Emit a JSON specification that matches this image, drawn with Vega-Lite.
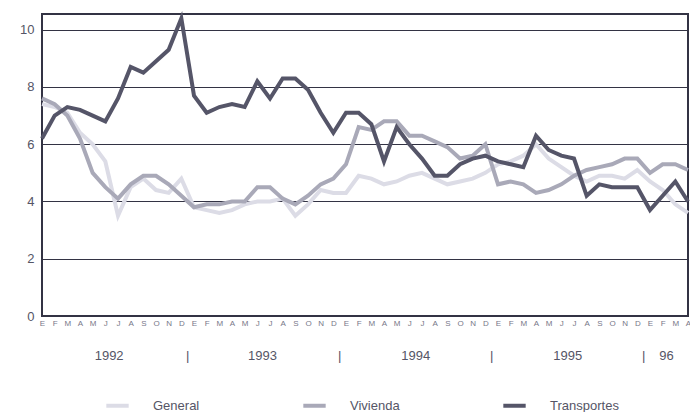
{
"$schema":"https://vega.github.io/schema/vega-lite/v6.json",
"width":646,"height":302,
"padding":{"left":19,"top":10,"right":2,"bottom":0},
"config":{"font":"Liberation Sans","view":{"stroke":"#333344","strokeWidth":2},"axisX":{"labelOverlap":false}},
"datasets":{
"years":[{"p":5.3,"t":"1992"},{"p":17.4,"t":"1993"},{"p":29.5,"t":"1994"},{"p":41.5,"t":"1995"},{"p":49.3,"t":"96"},{"p":11.5,"t":"|"},{"p":23.5,"t":"|"},{"p":35.5,"t":"|"},{"p":47.5,"t":"|"}]
},
"layer":[
{"data":{"values":[
{"s":"General","v":[7.4,7.3,7.1,6.4,6.0,5.4,3.5,4.5,4.8,4.4,4.3,4.8,3.8,3.7,3.6,3.7,3.9,4.0,4.0,4.1,3.5,3.9,4.4,4.3,4.3,4.9,4.8,4.6,4.7,4.9,5.0,4.8,4.6,4.7,4.8,5.0,5.3,5.4,5.6,6.0,5.5,5.2,4.9,4.7,4.9,4.9,4.8,5.1,4.7,4.4,3.9,3.6]},
{"s":"Vivienda","v":[7.6,7.4,7.0,6.2,5.0,4.5,4.1,4.6,4.9,4.9,4.6,4.2,3.8,3.9,3.9,4.0,4.0,4.5,4.5,4.1,3.9,4.2,4.6,4.8,5.3,6.6,6.5,6.8,6.8,6.3,6.3,6.1,5.9,5.5,5.6,6.0,4.6,4.7,4.6,4.3,4.4,4.6,4.9,5.1,5.2,5.3,5.5,5.5,5.0,5.3,5.3,5.1]},
{"s":"Transportes","v":[6.2,7.0,7.3,7.2,7.0,6.8,7.6,8.7,8.5,8.9,9.3,10.4,7.7,7.1,7.3,7.4,7.3,8.2,7.6,8.3,8.3,7.9,7.1,6.4,7.1,7.1,6.7,5.4,6.6,6.0,5.5,4.9,4.9,5.3,5.5,5.6,5.4,5.3,5.2,6.3,5.8,5.6,5.5,4.2,4.6,4.5,4.5,4.5,3.7,4.2,4.7,4.0]}
]},
"transform":[{"flatten":["v"]},{"window":[{"op":"row_number","as":"n"}],"groupby":["s"]},{"calculate":"datum.n-1","as":"m"}],
"mark":{"type":"line","strokeWidth":4},
"encoding":{
"x":{"field":"m","type":"quantitative","scale":{"domain":[0,51],"nice":false},
"axis":{"title":null,"grid":false,"domain":false,"ticks":false,"labelOverlap":false,"labelSeparation":0,"values":[0,1,2,3,4,5,6,7,8,9,10,11,12,13,14,15,16,17,18,19,20,21,22,23,24,25,26,27,28,29,30,31,32,33,34,35,36,37,38,39,40,41,42,43,44,45,46,47,48,49,50,51],
"labelExpr":"['E','F','M','A','M','J','J','A','S','O','N','D'][datum.value%12]","labelFontSize":8,"labelColor":"#777788","labelPadding":3,"labelFlush":false}},
"y":{"field":"v","type":"quantitative","scale":{"domain":[0,10.55],"nice":false},
"axis":{"title":null,"values":[0,2,4,6,8,10],"grid":true,"gridColor":"#333344","gridWidth":1.2,"domain":false,"ticks":false,"labelFontSize":13,"labelColor":"#555566","labelPadding":8}},
"color":{"field":"s","type":"nominal","scale":{"domain":["General","Vivienda","Transportes"],"range":["#dcdce6","#a9a9b8","#555568"]},
"legend":{"title":null,"orient":"none","legendX":62,"legendY":378,"direction":"horizontal","symbolType":"stroke","symbolStrokeWidth":4,"symbolSize":500,"labelFontSize":13,"labelColor":"#555566","columnPadding":95,"labelOffset":22,"padding":0}},
"order":{"field":"m"}
}},
{"data":{"name":"years"},
"mark":{"type":"text","fontSize":13,"color":"#555566","yOffset":40,"clip":false},
"encoding":{"x":{"field":"p","type":"quantitative",
"axis":{"title":null,"grid":false,"domain":false,"ticks":false,"labelOverlap":false,"labelSeparation":0,"values":[0,1,2,3,4,5,6,7,8,9,10,11,12,13,14,15,16,17,18,19,20,21,22,23,24,25,26,27,28,29,30,31,32,33,34,35,36,37,38,39,40,41,42,43,44,45,46,47,48,49,50,51],
"labelExpr":"['E','F','M','A','M','J','J','A','S','O','N','D'][datum.value%12]","labelFontSize":8,"labelColor":"#777788","labelPadding":3,"labelFlush":false}},
"y":{"datum":0},"text":{"field":"t"}}}
]
}
